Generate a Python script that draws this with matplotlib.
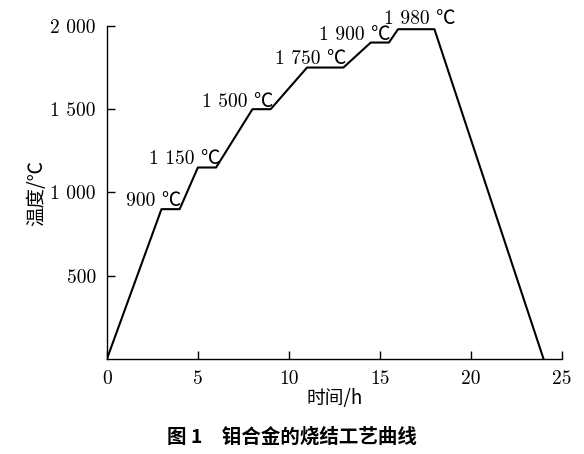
import matplotlib.pyplot as plt

# sintering curve: time (h) vs temperature (C)
time_h = [0, 3, 4, 5, 6, 8, 9, 11, 13, 14.5, 15.5, 16, 18, 24]
temp_c = [0, 900, 900, 1150, 1150, 1500, 1500, 1750, 1750, 1900, 1900, 1980, 1980, 0]

labels = ['900 ℃', '1 150 ℃', '1 500 ℃', '1 750 ℃', '1 900 ℃', '1 980 ℃']
label_x = [2.55, 4.29, 7.17, 11.18, 13.63, 17.17]
label_y = [949, 1198, 1544, 1799, 1943, 2042]

xticks = [0, 5, 10, 15, 20, 25]
yticks = [500, 1000, 1500, 2000]
ytick_labels = ['500', '1 000', '1 500', '2 000']

SERIF = ['cmr10', 'Noto Sans CJK SC']
CJK = ['Noto Sans CJK SC', 'DejaVu Sans']

fig = plt.figure(figsize=(5.84, 4.54), dpi=100)
ax = fig.add_axes([0.183, 0.209, 0.779, 0.734])

ax.plot(time_h, temp_c, color='black', lw=1.5)

for t, x, y in zip(labels, label_x, label_y):
    ax.text(x, y, t, ha='center', va='center', fontsize=14, family=SERIF)

ax.set_xlim(0, 25)
ax.set_ylim(0, 2000)
ax.spines['top'].set_visible(False)
ax.spines['right'].set_visible(False)
ax.spines['left'].set_linewidth(1.0)
ax.spines['bottom'].set_linewidth(1.0)

ax.set_xticks(xticks)
ax.set_xticklabels([str(v) for v in xticks], family=SERIF, fontsize=14)
ax.set_yticks(yticks)
ax.set_yticklabels(ytick_labels, family=SERIF, fontsize=14)
ax.tick_params(direction='in', length=6, width=1.0, pad=8)

ax.set_xlabel('时间/h', family=CJK, fontsize=13.5, labelpad=0)
ax.set_ylabel('温度/℃', family=CJK, fontsize=14, labelpad=2)

fig.text(0.5, 0.037, '图 1　钼合金的烧结工艺曲线', ha='center', va='center',
         family=CJK, fontsize=14, fontweight='bold')

fig.savefig('out.png', dpi=100)
